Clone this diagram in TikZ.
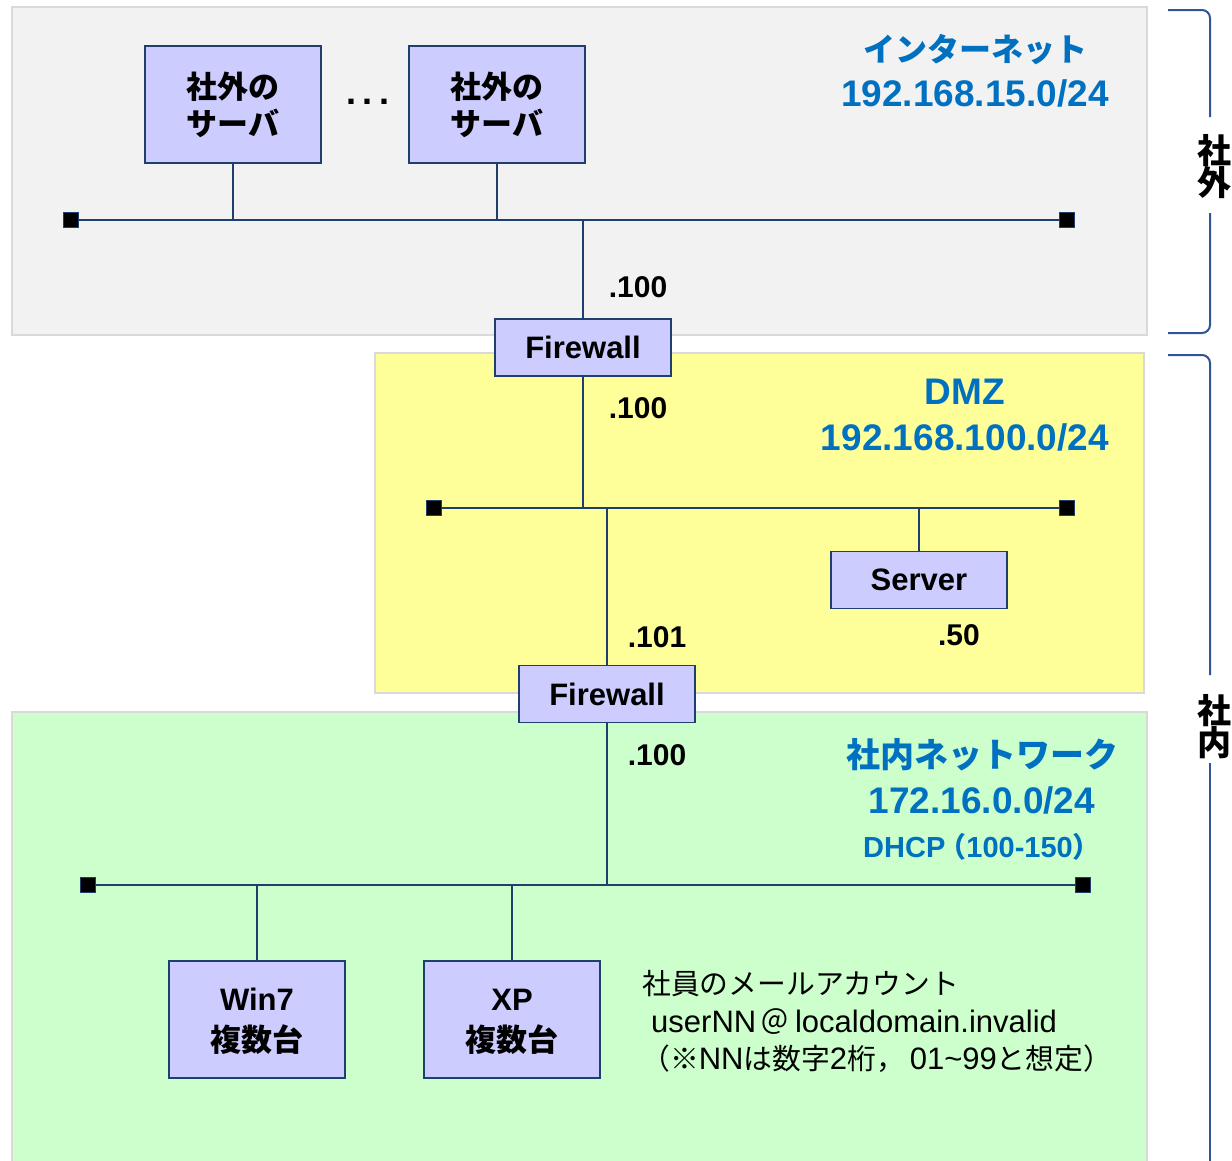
\documentclass[tikz,border=0pt]{standalone}
\usepackage{fontspec}
\setmainfont{Liberation Sans}
\newfontfamily\jp{Noto Sans CJK JP}
\definecolor{zgrey}{HTML}{F2F2F2}
\definecolor{zyellow}{HTML}{FFFF99}
\definecolor{zgreen}{HTML}{CCFFCC}
\definecolor{zborder}{HTML}{D9D9D9}
\definecolor{boxfill}{HTML}{CCCCFF}
\definecolor{navy}{HTML}{1F3F6E}
\definecolor{bluetxt}{HTML}{0070C0}
\definecolor{bracecol}{HTML}{2F5597}
\newcommand\szNode{\fontsize{31}{38}\selectfont}
\newcommand\jpm[1]{{\jp\fontsize{28.8}{34}\selectfont #1}}
\newcommand\jpp[1]{{\jp\fontsize{28}{34}\selectfont\bfseries #1}}
\tikzset{
  zone/.style={draw=zborder, line width=2pt},
  box/.style={draw=navy, fill=boxfill, line width=1.8pt, minimum width=176pt, inner sep=0pt, align=center, font=\szNode\bfseries},
  tallbox/.style={box, minimum height=117pt},
  flatbox/.style={box, minimum height=57pt},
  link/.style={draw=navy, line width=2pt},
  busend/.style={draw=navy, fill=black, line width=1pt, minimum size=15pt, inner sep=0pt},
  addr/.style={font=\fontsize{30}{36}\selectfont\bfseries, text=black, inner sep=0pt},
  nettitle/.style={font=\jp\fontsize{32}{38}\selectfont\bfseries, text=bluetxt, inner sep=0pt},
  netaddr/.style={font=\fontsize{37}{44}\selectfont\bfseries, text=bluetxt, inner sep=0pt},
  side/.style={font=\jp\fontsize{34}{36}\selectfont\bfseries, align=center, inner sep=0pt},
  brace/.style={draw=bracecol, line width=2pt, rounded corners=8pt},
  mail/.style={font=\fontsize{31}{36}\selectfont, anchor=west, inner sep=0pt}
}
\begin{document}
\begin{tikzpicture}[x=1pt,y=-1pt]
\useasboundingbox (0,0) rectangle (1232,1160);
% zones
\filldraw[zone, fill=zgrey] (12,7) rectangle (1147,335);
\filldraw[zone, fill=zyellow] (375,353) rectangle (1144,693);
\filldraw[zone, fill=zgreen] (12,712) rectangle (1147,1175);

% buses
\node[busend] (b1l) at (71,220) {};
\node[busend] (b1r) at (1067,220) {};
\node[busend] (b2l) at (434,508) {};
\node[busend] (b2r) at (1067,508) {};
\node[busend] (b3l) at (88,885) {};
\node[busend] (b3r) at (1083,885) {};
\draw[link] (b1l) -- (b1r);
\draw[link] (b2l) -- (b2r);
\draw[link] (b3l) -- (b3r);

% nodes
\node[tallbox] (ext1) at (233,104.5) {{\jp 社外の}\\[-1pt]{\jp サーバ}};
\node[tallbox] (ext2) at (497,104.5) {{\jp 社外の}\\[-1pt]{\jp サーバ}};
\node[font=\fontsize{36}{40}\selectfont\bfseries, inner sep=0pt, anchor=base] (dots) at (368,104) {.\hspace{7pt}.\hspace{7pt}.};
\node[flatbox] (fw1) at (583,347.5) {Firewall};
\node[flatbox] (fw2) at (607,694) {Firewall};
\node[flatbox] (srv) at (919,580) {Server};
\node[tallbox] (win7) at (257,1019.5) {\rule{0pt}{26pt}Win7\\[3pt]{\jp 複数台}};
\node[tallbox] (xp) at (512,1019.5) {\rule{0pt}{26pt}XP\\[3pt]{\jp 複数台}};

% connectors
\coordinate (j1) at (583,220);
\coordinate (j2) at (583,508);
\coordinate (j3) at (607,508);
\coordinate (j4) at (607,885);
\draw[link] (ext1.south) -- (ext1.south |- b1l);
\draw[link] (ext2.south) -- (ext2.south |- b1l);
\draw[link] (j1) -- (fw1.north);
\draw[link] (fw1.south) -- (j2);
\draw[link] (j3) -- (fw2.north);
\draw[link] (srv.north) -- (srv.north |- b2l);
\draw[link] (fw2.south) -- (j4);
\draw[link] (win7.north) -- (win7.north |- b3l);
\draw[link] (xp.north) -- (xp.north |- b3l);

% address labels
\node[addr] (a1) at (638,287) {.100};
\node[addr] (a2) at (638,408) {.100};
\node[addr] (a3) at (657,637) {.101};
\node[addr] (a4) at (959,635) {.50};
\node[addr] (a5) at (657,755) {.100};

% network titles
\node[nettitle] (t1) at (975,50) {インターネット};
\node[netaddr] (t1a) at (975,93) {192.168.15.0/24};
\node[netaddr] (t2) at (965,392) {DMZ};
\node[netaddr] (t2a) at (965,437) {192.168.100.0/24};
\node[nettitle, font=\jp\fontsize{34}{38}\selectfont\bfseries] (t3) at (982,755) {社内ネットワーク};
\node[netaddr] (t3a) at (982,800) {172.16.0.0/24};
\node[text=bluetxt, inner sep=0pt, font=\fontsize{29}{34}\selectfont\bfseries] (t3b) at (982,847) {DHCP\hspace{-7pt}\jpp{（}100-150\jpp{）}};

% mail note
\node[mail] (m1) at (642,984) {\jpm{社員のメールアカウント}};
\node[mail] (m2) at (651,1022) {userNN\hspace{4pt}\jpm{＠}\hspace{6pt}localdomain.invalid};
\node[mail] (m3) at (641,1059) {\jpm{（※}NN\jpm{は数字}2\jpm{桁，}\hspace{5pt}01\textasciitilde 99\jpm{と想定）}};

% side braces
\node[side] (outside) at (1214,167) {社\\[-4pt]外};
\node[side] (inside) at (1214,727) {社\\[-4pt]内};
\coordinate (bt0) at (1168,10);
\coordinate (bt1) at (1210,10);
\coordinate (bt1e) at (1210,117);
\coordinate (bt2s) at (1210,213);
\coordinate (bt2) at (1210,333);
\coordinate (bt3) at (1168,333);
\draw[brace] (bt0) -- (bt1) -- (bt1e);
\draw[brace] (bt2s) -- (bt2) -- (bt3);
\coordinate (bb0) at (1168,355);
\coordinate (bb1) at (1210,355);
\coordinate (bb1e) at (1210,675);
\coordinate (bb2s) at (1210,763);
\coordinate (bb2) at (1210,1165);
\draw[brace] (bb0) -- (bb1) -- (bb1e);
\draw[brace] (bb2s) -- (bb2);
\end{tikzpicture}
\end{document}
